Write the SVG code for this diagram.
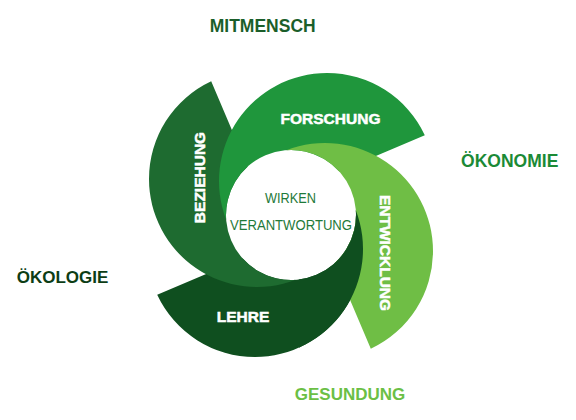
<svg xmlns="http://www.w3.org/2000/svg" xmlns:xlink="http://www.w3.org/1999/xlink" width="576" height="420" viewBox="0 0 576 420">
  <defs>
    <style>
      .blade-label { font-family: "Liberation Sans", Arial, sans-serif; font-weight: bold; font-size: 15.5px; fill: #ffffff; stroke: #ffffff; stroke-width: 0.5px; text-anchor: middle; }
      .blade-shadow { font-family: "Liberation Sans", Arial, sans-serif; font-weight: bold; font-size: 15.5px; fill: #000000; fill-opacity: 0.25; text-anchor: middle; }
      .outer-label { font-family: "Liberation Sans", Arial, sans-serif; font-weight: bold; font-size: 17px; text-anchor: middle; }
      .center-label { font-family: "Liberation Sans", Arial, sans-serif; font-size: 14.5px; fill: #1f7a3a; text-anchor: middle; }
    </style>
    <path id="blade" d="M -64.83,4.69 A 108 108 0 0 1 36,-142 A 108 108 0 0 1 133.8,-79.8 L 48.3,-43.5 A 65 65 0 0 0 -64.83,4.69 Z"/>
    <clipPath id="rightPart">
      <rect x="299" y="0" width="277" height="420"/>
    </clipPath>
  </defs>
  <rect width="576" height="420" fill="#ffffff"/>

  <g id="blades">
    <use id="blade-lehre" xlink:href="#blade" href="#blade" transform="translate(291,215) rotate(180)" fill="#0f4f1f"/>
    <use id="blade-beziehung" xlink:href="#blade" href="#blade" transform="translate(291,215) rotate(-90)" fill="#1e6b30"/>
    <use id="blade-forschung" xlink:href="#blade" href="#blade" transform="translate(291,215)" fill="#1f963c"/>
    <use id="blade-entwicklung" xlink:href="#blade" href="#blade" transform="translate(291,215) rotate(90)" fill="#6fbe45"/>
    <g clip-path="url(#rightPart)">
      <use xlink:href="#blade" href="#blade" transform="translate(291,215) rotate(180)" fill="#0f4f1f"/>
    </g>
  </g>

  <g id="node-beziehung">
    <text class="blade-label" transform="translate(205,177.5) rotate(-90)" x="0" y="0">BEZIEHUNG</text>
  </g>
  <g id="node-forschung">
    <text class="blade-label" x="330.5" y="123.5">FORSCHUNG</text>
  </g>
  <g id="node-entwicklung">
    <text class="blade-label" transform="translate(380,253) rotate(90)" x="0" y="0">ENTWICKLUNG</text>
  </g>
  <g id="node-lehre">
    <text class="blade-label" x="243" y="321.5">LEHRE</text>
  </g>

  <g id="node-center">
    <text class="center-label" x="290.5" y="202.7" textLength="51" lengthAdjust="spacingAndGlyphs">WIRKEN</text>
    <text class="center-label" x="291" y="230" textLength="122" lengthAdjust="spacingAndGlyphs">VERANTWORTUNG</text>
  </g>

  <g id="node-mitmensch">
    <text class="outer-label" x="262.7" y="32.3" fill="#1b5e2a" style="font-size:17.5px">MITMENSCH</text>
  </g>
  <g id="node-oekonomie">
    <text class="outer-label" x="509.7" y="166.7" fill="#1b8a36" style="font-size:17.5px">ÖKONOMIE</text>
  </g>
  <g id="node-gesundung">
    <text class="outer-label" x="350" y="400" fill="#6bbf45">GESUNDUNG</text>
  </g>
  <g id="node-oekologie">
    <text class="outer-label" x="62.5" y="282.5" fill="#0d3d15">ÖKOLOGIE</text>
  </g>
</svg>
